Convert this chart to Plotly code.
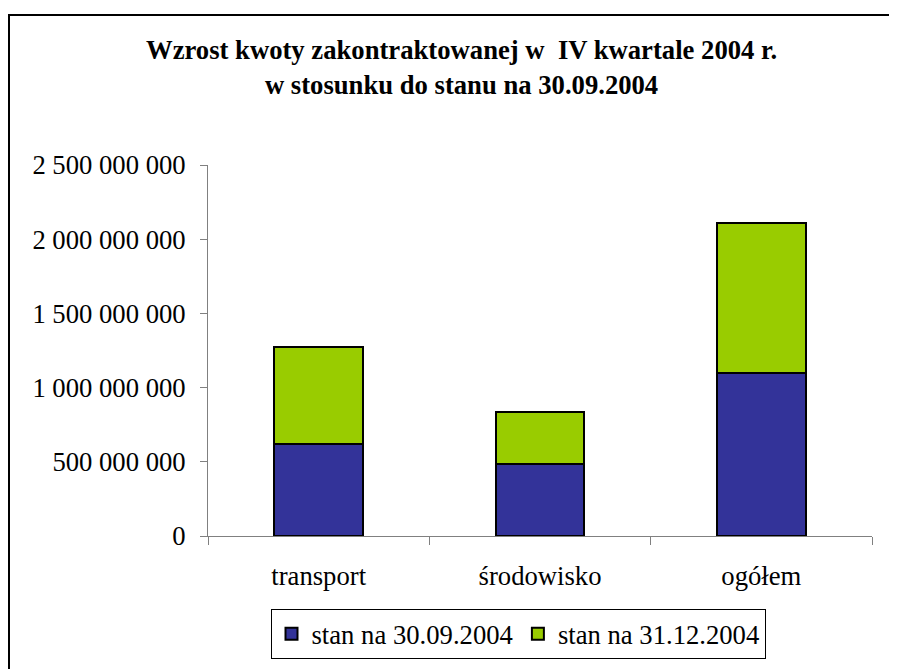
import plotly.graph_objects as go

categories = ["transport", "środowisko", "ogółem"]
stan_30_09 = [618_000_000, 483_000_000, 1_100_000_000]
przyrost_31_12 = [658_000_000, 355_000_000, 1_007_000_000]
series_names = ["stan na 30.09.2004", "stan na 31.12.2004"]
y_tick_values = [0, 500_000_000, 1_000_000_000, 1_500_000_000, 2_000_000_000, 2_500_000_000]
title_lines = ["Wzrost kwoty zakontraktowanej w  IV kwartale 2004 r.",
               "w stosunku do stanu na 30.09.2004"]

def fmt(v):
    return f"{v:,}".replace(",", " ")

FONT = "Liberation Serif"
FS = 26.67
OFF = 8  # page body margin

W, H = 897, 669
# target screen coords of plot area
PX0, PX1, PY0, PY1 = 208, 872, 165, 536
L = PX0 - OFF
T = PY0 - OFF
R = W - (PX1 - OFF)
B = H - (PY1 - OFF)
pw = PX1 - PX0
ph = PY1 - PY0

def px_x(p):
    return (p - PX0) / pw
def px_y(p):
    return (PY1 - p) / ph

fig = go.Figure()
fig.add_bar(x=categories, y=stan_30_09, name=series_names[0],
            marker=dict(color="#333399", line=dict(color="black", width=2)))
fig.add_bar(x=categories, y=przyrost_31_12, name=series_names[1],
            marker=dict(color="#99CC00", line=dict(color="black", width=2)))

fig.update_layout(
    width=W, height=H,
    barmode="stack", bargap=0.6,
    margin=dict(l=L, r=R, t=T, b=B),
    paper_bgcolor="white", plot_bgcolor="white",
    font=dict(family=FONT, size=FS, color="black"),
    showlegend=True,
    legend=dict(orientation="h", x=px_x(518), y=px_y(634), xanchor="center", yanchor="middle",
                bordercolor="black", borderwidth=1, bgcolor="white",
                font=dict(family=FONT, size=FS, color="black"), traceorder="normal"),
    xaxis=dict(type="category", showline=True, linecolor="#808080", linewidth=1,
               ticks="outside", ticklen=8, tickcolor="#808080", tickson="boundaries",
               showgrid=False, ticklabelstandoff=16,
               tickfont=dict(family=FONT, size=FS, color="black")),
    yaxis=dict(range=[0, 2_500_000_000], showline=True, linecolor="#808080", linewidth=1,
               ticks="outside", ticklen=7, tickcolor="#808080", showgrid=False, zeroline=False,
               tickvals=y_tick_values, ticktext=[fmt(v) for v in y_tick_values],
               ticklabelstandoff=9,
               tickfont=dict(family=FONT, size=FS, color="black")),
    shapes=[dict(type="rect", xref="paper", yref="paper",
                 x0=px_x(9), x1=px_x(920), y0=px_y(700), y1=px_y(15),
                 line=dict(color="black", width=2), fillcolor="rgba(0,0,0,0)", layer="below")],
    annotations=[dict(xref="paper", yref="paper", x=px_x(461), y=px_y(67),
                      xanchor="center", yanchor="middle", showarrow=False,
                      text="<b>" + title_lines[0] + "</b><br><b>" + title_lines[1] + "</b>",
                      font=dict(family=FONT, size=FS, color="black"))],
)

fig.write_html("out.html")
